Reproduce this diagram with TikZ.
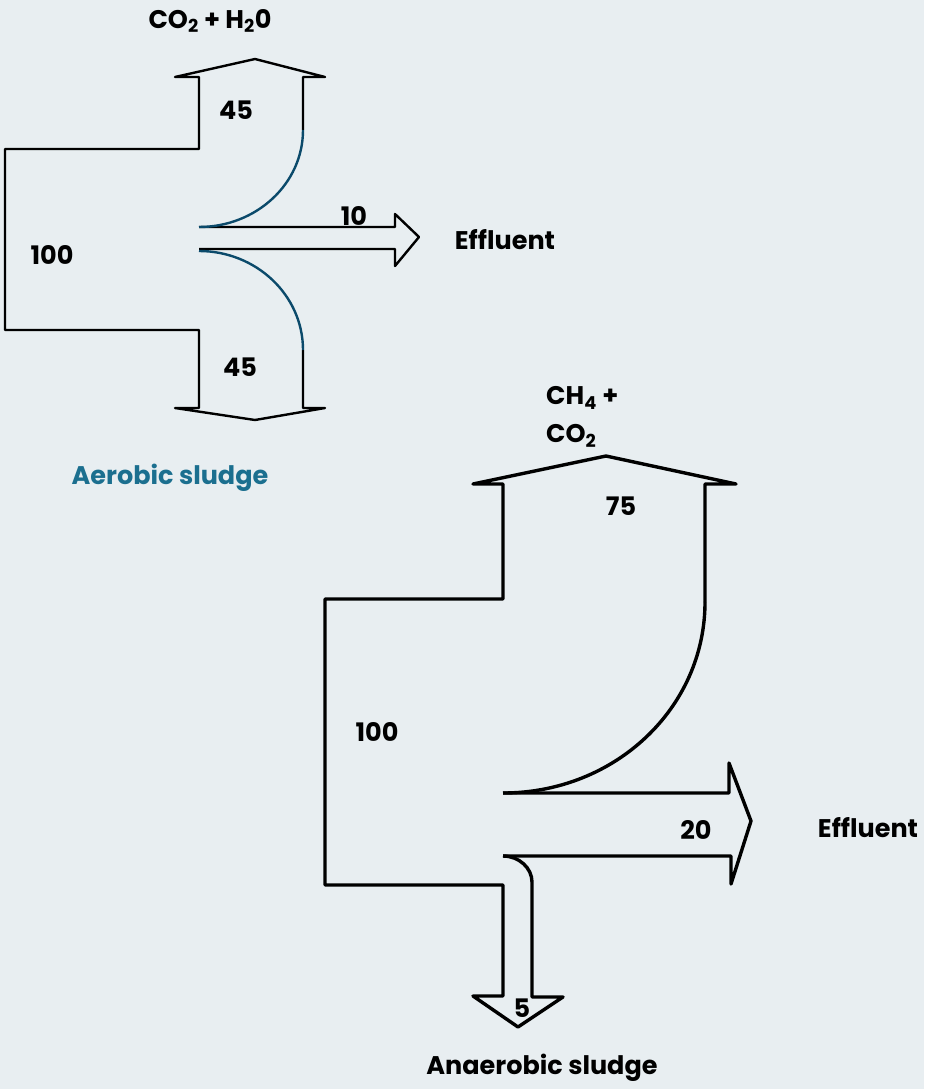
\documentclass[tikz,border=0pt]{standalone}
\usepackage{fontspec}
\setmainfont{Poppins}
\definecolor{bg}{HTML}{E8EEF1}
\definecolor{curveblue}{HTML}{0B4A6B}
\definecolor{teal}{HTML}{1B6F8F}
\tikzset{
  lbl/.style={font=\fontsize{25.5}{28}\selectfont\bfseries, inner sep=0pt, text=black},
  topline/.style={draw=black, line width=2.4pt, line join=round},
  botline/.style={draw=black, line width=3.4pt, line join=round},
  topcurve/.style={draw=curveblue, line width=2.4pt},
}
\newcommand{\sub}[1]{\textsubscript{#1}}
\begin{document}
\begin{tikzpicture}[x=1pt,y=-1pt]
\fill[bg] (0,0) rectangle (924,1089);
\useasboundingbox (0,0) rectangle (924,1089);

% ---------- aerobic ----------
\draw[topline] (303,130) -- (303,77) -- (325,77) -- (255,59) -- (175,77) -- (199,77)
  -- (199,149) -- (5,149) -- (5,330) -- (199,330) -- (199,408) -- (175,408)
  -- (255,420) -- (325,408) -- (303,408) -- (303,350);
\draw[topline] (199,227) -- (395,227) -- (395,214) -- (419,237) -- (395,266) -- (395,249) -- (199,249);
\draw[topcurve] (303,130) .. controls (303,184) and (256,227) .. (199,227);
\draw[topcurve] (199,251) .. controls (256,251) and (303,295) .. (303,350);

\node[lbl] (aout) at (210,21) {CO\sub{2} + H\sub{2}0};
\node[lbl] (a45t) at (236,110) {45};
\node[lbl] (a10) at (354,216) {10};
\node[lbl] (a100) at (52,255) {100};
\node[lbl] (a45b) at (240,367) {45};
\node[lbl] (aeff) at (505,240) {Effluent};
\node[lbl, text=teal] (asl) at (170,478) {Aerobic sludge};

% ---------- anaerobic ----------
\draw[botline] (705,602) -- (705,484) -- (736,484) -- (606,456) -- (473,484) -- (503,484)
  -- (503,599) -- (325,599) -- (325,885) -- (503,885) -- (503,996) -- (473,996)
  -- (518,1027) -- (563,997) -- (532,997) -- (532,882);
\draw[botline] (705,602) .. controls (705,708) and (615,793) .. (503,793);
\draw[botline] (503,793) -- (729,793) -- (729,763) -- (751,821) -- (731,884) -- (731,856) -- (503,856);
\draw[botline] (503,856) .. controls (519,856) and (532,868) .. (532,882);

\node[lbl, anchor=west] (bout1) at (546,398) {CH\sub{4} +};
\node[lbl, anchor=west] (bout2) at (546,436) {CO\sub{2}};
\node[lbl] (b75) at (621,506) {75};
\node[lbl] (b100) at (377,732) {100};
\node[lbl] (b20) at (696,830) {20};
\node[lbl] (beff) at (868,828) {Effluent};
\node[lbl] (b5) at (522,1008) {5};
\node[lbl] (bsl) at (542,1068) {Anaerobic sludge};
\end{tikzpicture}
\end{document}
